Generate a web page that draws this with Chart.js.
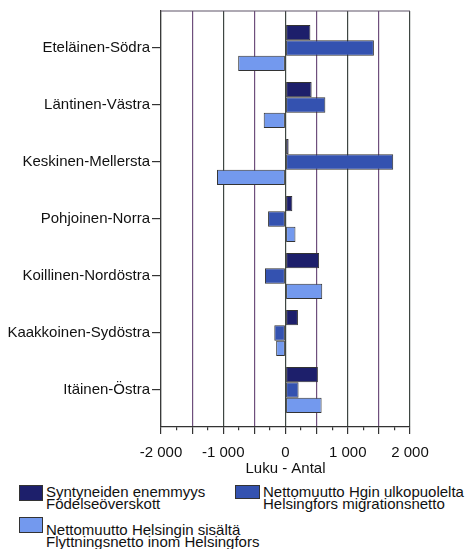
<!DOCTYPE html>
<html>
<head>
<meta charset="utf-8">
<script src="https://cdn.jsdelivr.net/npm/chart.js@4/dist/chart.umd.min.js"></script>
<style>
  body { margin: 0; background: #fff; font-family: 'Liberation Sans', Arial, sans-serif; color: #111; }
  #wrap { position: relative; width: 468px; height: 549px; }
  .box { position: absolute; border: 1px solid #333; box-sizing: border-box; }
  .txt { position: absolute; font-size: 15px; line-height: 12px; white-space: nowrap; }
</style>
</head>
<body>
<div id="wrap">
  <canvas id="chart" width="468" height="480"></canvas>

  <div class="box" style="left:19px;top:485px;width:24px;height:16px;background:#1d1f6b"></div>
  <div class="txt" style="left:46px;top:486px">Syntyneiden enemmyys<br>Födelseöverskott</div>

  <div class="box" style="left:235px;top:485px;width:25px;height:14px;background:#3452b0"></div>
  <div class="txt" style="left:263px;top:486px">Nettomuutto Hgin ulkopuolelta<br>Helsingfors migrationsnetto</div>

  <div class="box" style="left:19px;top:517px;width:24px;height:16px;background:#7399ee"></div>
  <div class="txt" style="left:46px;top:524px">Nettomuutto Helsingin sisältä<br>Flyttningsnetto inom Helsingfors</div>
</div>

<script>
// alueet (ylhäältä alas)
const alueet = [
    'Eteläinen-Södra',
    'Läntinen-Västra',
    'Keskinen-Mellersta',
    'Pohjoinen-Norra',
    'Koillinen-Nordöstra',
    'Kaakkoinen-Sydöstra',
    'Itäinen-Östra'
];

// arvot luettu kuvasta
const syntyneet  = [400, 420, 50, 110, 540, 200, 520];
const muuttoUlko = [1420, 640, 1730, -280, -330, -180, 210];
const muuttoSisa = [-760, -350, -1100, 160, 590, -150, 580];

const xTicksMajor = [-2000, -1000, 0, 1000, 2000];

const colors = {
    tumma: '#1d1f6b',
    keski: '#3452b0',
    vaalea: '#7399ee',
    reuna: '#333333'
};

function pisteet(arr) {
    return arr.map((v, i) => ({ x: v, y: i }));
}

function muotoile(v) {
    if (v === 0) return '0';
    const sign = v < 0 ? '-' : '';
    return sign + Math.abs(v / 1000) + ' 000';
}

// kehys plot-alueen yläreunaan
const kehys = {
    id: 'kehys',
    afterDraw(chart) {
        const { ctx, chartArea: a } = chart;
        ctx.save();
        ctx.strokeStyle = '#5e5468';
        ctx.lineWidth = 1.2;
        ctx.beginPath();
        ctx.moveTo(a.left, a.top);
        ctx.lineTo(a.right, a.top);
        ctx.stroke();
        ctx.restore();
    }
};

const fontti = { family: "'Liberation Sans', Arial, sans-serif", size: 15 };

new Chart(document.getElementById('chart'), {
    type: 'bar',
    data: {
        datasets: [
            { label: 'Syntyneiden enemmyys', data: pisteet(syntyneet), backgroundColor: colors.tumma },
            { label: 'Nettomuutto Hgin ulkopuolelta', data: pisteet(muuttoUlko), backgroundColor: colors.keski },
            { label: 'Nettomuutto Helsingin sisältä', data: pisteet(muuttoSisa), backgroundColor: colors.vaalea }
        ].map(d => ({ ...d, borderColor: colors.reuna, borderWidth: 1, borderSkipped: false,
                      categoryPercentage: 0.81, barPercentage: 1 }))
    },
    options: {
        responsive: false,
        animation: false,
        indexAxis: 'y',
        layout: { padding: { top: 11, right: 58, left: 0, bottom: 0 } },
        plugins: { legend: { display: false }, tooltip: { enabled: false } },
        scales: {
            y: {
                type: 'linear',
                reverse: true,
                offset: false,
                min: -0.65,
                max: 6.65,
                afterBuildTicks: s => { s.ticks = alueet.map((_, i) => ({ value: i })); },
                afterFit: s => { s.width = 161; },
                ticks: {
                    callback: v => alueet[v] ?? '',
                    color: '#111',
                    font: fontti,
                    padding: 2
                },
                grid: { offset: false, drawOnChartArea: false, tickLength: 9, color: '#333', lineWidth: 1.2 },
                border: { color: '#3a3a3a', width: 1.2 }
            },
            x: {
                type: 'linear',
                min: -2000,
                max: 2000,
                afterFit: s => { s.height = 53; },
                ticks: {
                    stepSize: 250,
                    autoSkip: false,
                    maxRotation: 0,
                    callback: v => xTicksMajor.includes(v) ? muotoile(v) : '',
                    color: '#111',
                    font: fontti,
                    padding: 10
                },
                grid: {
                    tickLength: 7,
                    lineWidth: 1.2,
                    color: c => {
                        const v = c.tick ? c.tick.value : 0;
                        if (v % 500 !== 0) return 'rgba(0,0,0,0)';
                        return (v % 1000 === 0) ? '#3e4642' : '#6e4f7c';
                    },
                    tickColor: '#333',
                    tickBorderDash: c => (c.tick && c.tick.value % 500 !== 0) ? [3, 30] : []
                },
                border: { color: '#333', width: 1.2 },
                title: {
                    display: true,
                    text: 'Luku - Antal',
                    color: '#111',
                    font: fontti,
                    padding: { top: 0, bottom: 2 }
                }
            }
        }
    },
    plugins: [kehys]
});
</script>
</body>
</html>
